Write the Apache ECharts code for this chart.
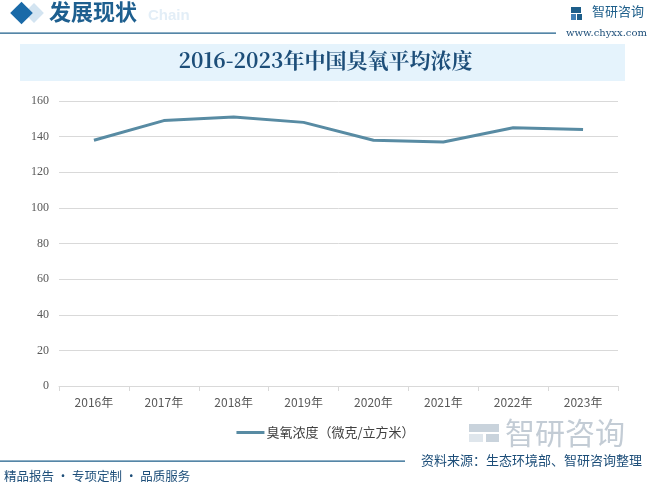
<!DOCTYPE html>
<html><head><meta charset="utf-8">
<script src="https://cdn.jsdelivr.net/npm/echarts@6/dist/echarts.min.js"></script>
<style>html,body{margin:0;padding:0;background:#fff}#c{width:651px;height:487px}</style>
</head><body><div id="c"></div>
<script>
const categories = ['2016年','2017年','2018年','2019年','2020年','2021年','2022年','2023年'];
const ozone = [138, 149, 151, 148, 138, 137, 145, 144];
const seriesName = '臭氧浓度（微克/立方米）';
const titleText = '2016-2023年中国臭氧平均浓度';

const chart = echarts.init(document.getElementById('c'), null, {renderer:'canvas'});
chart.setOption({
  animation:false,
  backgroundColor:'#fff',
  graphic:[
    {type:'rect', shape:{x:20,y:44,width:605,height:37}, style:{fill:'#e5f3fc'}, z:-1},
    {type:'text', left:'center', top:50, style:{text:titleText, fill:'#1d4e79', font:'bold 21px "Noto Serif CJK SC", "Noto Sans CJK SC", serif'}},
    {type:'rect', rotation:Math.PI/4, x:34, y:13, shape:{x:-7,y:-7,width:14,height:14}, style:{fill:'#d3e4f1'}},
    {type:'rect', rotation:Math.PI/4, x:21.5, y:13, shape:{x:-8,y:-8,width:16,height:16}, style:{fill:'#1a6aa8'}},
    {type:'text', x:49, y:1, style:{text:'发展现状', fill:'#1e5f8f', font:'bold 22px "Noto Sans CJK SC", sans-serif'}},
    {type:'text', x:148, y:8, style:{text:'Chain', fill:'#e3eef7', font:'bold 15px "Liberation Sans", sans-serif'}},
    {type:'rect', shape:{x:0,y:32.5,width:556,height:1.2}, style:{fill:'#1d5e8a'}},
    {type:'text', x:592, y:5, style:{text:'智研咨询', fill:'#1d5e8a', font:'13px "Noto Sans CJK SC", sans-serif'}},
    {type:'rect', shape:{x:571,y:7,width:10,height:6}, style:{fill:'#1d5e8a'}},
    {type:'rect', shape:{x:571,y:14,width:5,height:6}, style:{fill:'#3f7fb5'}},
    {type:'rect', shape:{x:577,y:14,width:5,height:6}, style:{fill:'#1d5e8a'}},
    {type:'text', x:566, y:28, style:{text:'www.chyxx.com', fill:'#1d4e79', font:'10px "DejaVu Serif", serif'}},
    {type:'rect', shape:{x:469,y:424,width:30,height:8}, style:{fill:'#c9d3dc'}},
    {type:'rect', shape:{x:469,y:434,width:14,height:8}, style:{fill:'#dfe6ec'}},
    {type:'rect', shape:{x:486,y:434,width:13,height:8}, style:{fill:'#c9d3dc'}},
    {type:'text', x:505, y:418, style:{text:'智研咨询', fill:'#c3ccd5', font:'30px "Noto Sans CJK SC", sans-serif'}},
    {type:'rect', shape:{x:0,y:460.5,width:405,height:1.2}, style:{fill:'#1d5e8a'}},
    {type:'text', x:421, y:454, style:{text:'资料来源：生态环境部、智研咨询整理', fill:'#1d4e79', font:'13px "Noto Sans CJK SC", sans-serif'}},
    {type:'text', x:4, y:470, style:{text:'精品报告 · 专项定制 · 品质服务', fill:'#1d4e79', font:'12.5px "Noto Sans CJK SC", sans-serif'}}
  ],
  legend:{
    data:[seriesName], left:'center', top:421, itemWidth:28, itemHeight:3, itemGap:5,
    icon:'rect',
    textStyle:{color:'#404040', fontSize:13, padding:[0,0,0,-3], fontFamily:'"Noto Sans CJK SC", sans-serif'}
  },
  grid:{left:59, right:33, top:101, bottom:101},
  xAxis:{
    type:'category', data:categories, boundaryGap:true,
    axisLine:{lineStyle:{color:'#d9d9d9'}},
    axisTick:{show:true, length:5, lineStyle:{color:'#d9d9d9'}},
    axisLabel:{color:'#595959', fontSize:12, margin:10, fontFamily:'"Noto Sans CJK SC", sans-serif'}
  },
  yAxis:{
    type:'value', min:0, max:160, interval:20,
    axisLine:{show:false}, axisTick:{show:false},
    splitLine:{lineStyle:{color:'#d9d9d9'}},
    axisLabel:{color:'#595959', fontSize:12, margin:10, fontFamily:'"Liberation Serif", serif'}
  },
  series:[{
    name:seriesName, type:'line', data:ozone, showSymbol:false, symbol:'none',
    lineStyle:{color:'#588ba3', width:3}, itemStyle:{color:'#588ba3'}
  }]
});
</script></body></html>
